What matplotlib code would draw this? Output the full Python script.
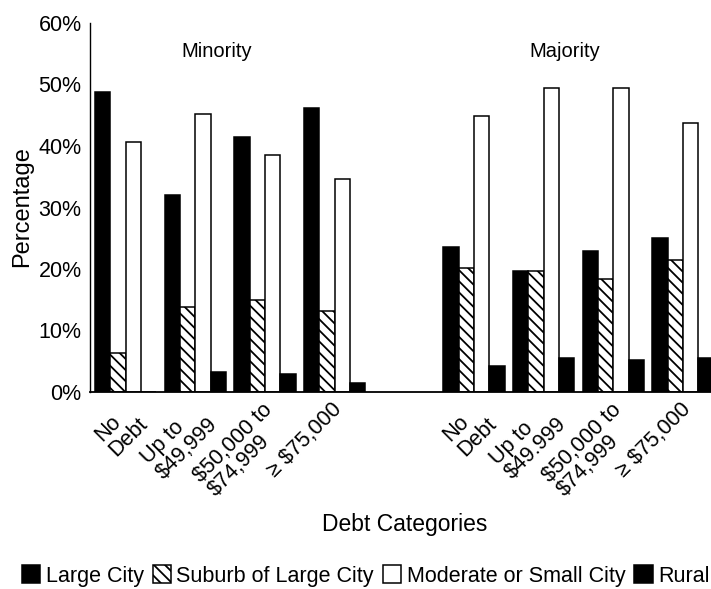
import numpy as np
import matplotlib
matplotlib.use("Agg")
import matplotlib.pyplot as plt
from matplotlib.patches import Patch
from matplotlib.transforms import ScaledTranslation

# ---- data ----
groups = ["Minority", "Majority"]
categories_minority = ["No\nDebt", "Up to\n$49,999", "$50,000 to\n$74,999", "\u2265 $75,000"]
categories_majority = ["No\nDebt", "Up to\n$49.999", "$50,000 to\n$74,999", "\u2265 $75,000"]
series_names = ["Large City", "Suburb of Large City", "Moderate or Small City", "Rural"]

minority_large = [48.7, 32.1, 41.5, 46.2]
minority_suburb = [6.3, 13.9, 14.9, 13.1]
minority_moderate = [40.6, 45.2, 38.5, 34.7]
minority_rural = [0.0, 3.2, 2.9, 1.4]

majority_large = [23.5, 19.7, 23.0, 25.0]
majority_suburb = [20.2, 19.7, 18.3, 21.5]
majority_moderate = [44.8, 49.4, 49.4, 43.7]
majority_rural = [4.3, 5.6, 5.2, 5.6]

yticks = [0, 10, 20, 30, 40, 50, 60]
ytick_labels = ["0%", "10%", "20%", "30%", "40%", "50%", "60%"]

# ---- fonts ----
base = "Liberation Sans"
plt.rcParams["font.family"] = [base, "DejaVu Sans"]
plt.rcParams["hatch.linewidth"] = 1.3

fig = plt.figure(figsize=(7.11, 5.89), dpi=100)
W, H = 711, 589
ax = fig.add_axes([90 / W, 1 - 392 / H, (W - 90) / W, (392 - 23) / H])

pos_min = np.arange(4)
pos_maj = np.arange(4) + 5
bw = 0.22
offsets = np.array([-1.5, -0.5, 0.5, 1.5]) * bw

styles = [
    dict(facecolor="black", edgecolor="black"),
    dict(facecolor="white", edgecolor="black", hatch="\\\\\\"),
    dict(facecolor="white", edgecolor="black"),
    dict(facecolor="black", edgecolor="black"),
]

min_series = [minority_large, minority_suburb, minority_moderate, minority_rural]
maj_series = [majority_large, majority_suburb, majority_moderate, majority_rural]
for k in range(4):
    ax.bar(pos_min + offsets[k], min_series[k], width=bw, linewidth=1.1, **styles[k])
    ax.bar(pos_maj + offsets[k], maj_series[k], width=bw, linewidth=1.1, **styles[k])

ax.set_xlim(-0.51, 8.40)
ax.set_ylim(0, 60)
for s in ["top", "right"]:
    ax.spines[s].set_visible(False)
ax.spines["left"].set_linewidth(1.0)
ax.spines["bottom"].set_linewidth(1.3)

ax.set_yticks(yticks)
ax.set_yticklabels(ytick_labels, fontsize=15.5)
ax.tick_params(axis="y", length=0, pad=6)

ax.set_xticks(list(pos_min) + list(pos_maj))
labels = ax.set_xticklabels(categories_minority + categories_majority, fontsize=15.5,
                            rotation=45, ha="right", va="top", rotation_mode="anchor",
                            multialignment="left", linespacing=1.0)
ax.tick_params(axis="x", length=0, pad=5)
off = ScaledTranslation(-3 / 100, 0, fig.dpi_scale_trans)
for lab in labels:
    lab.set_transform(lab.get_transform() + off)

ax.text(1.31, 55.3, groups[0], ha="center", va="center", fontsize=14.5)
ax.text(6.30, 55.3, groups[1], ha="center", va="center", fontsize=14.5)

fig.text(22 / W, 1 - 207 / H, "Percentage", rotation=90, ha="center", va="center", fontsize=17)
fig.text(405 / W, 1 - 525 / H, "Debt Categories", ha="center", va="center", fontsize=16.5)

handles = [Patch(linewidth=1.1, **st) for st in styles]
fig.legend(handles, series_names, loc="center left", bbox_to_anchor=(22 / W, 1 - 576 / H),
           ncol=4, frameon=False, handlelength=0.85, handleheight=0.85, handletextpad=0.25,
           columnspacing=0.42, borderpad=0, borderaxespad=0, prop=dict(family=[base], size=15.5))

fig.savefig("out.png", dpi=100)
